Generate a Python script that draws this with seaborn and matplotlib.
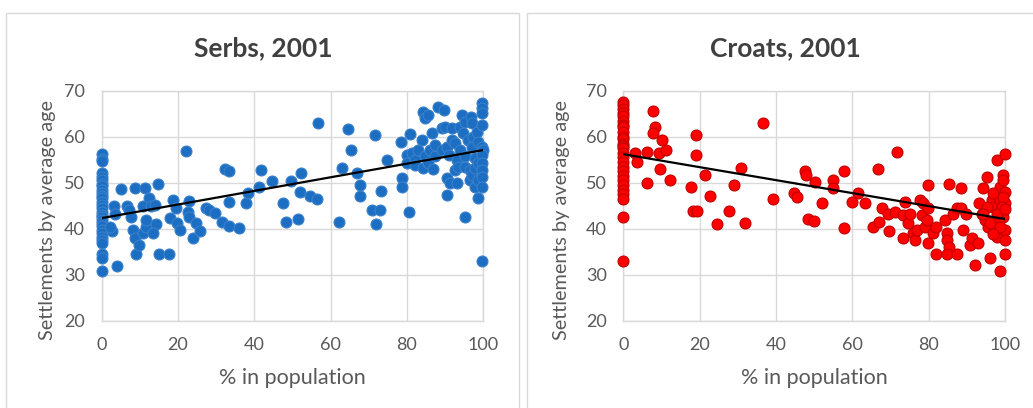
import matplotlib
matplotlib.use("Agg")
import matplotlib.pyplot as plt
from matplotlib.patches import Rectangle
import seaborn as sns

# ---------------------------------------------------------------------------
# Data
# ---------------------------------------------------------------------------

serbs_zero_age = [56.2, 55.2, 54.8, 52.0, 51.2, 50.6, 49.8, 49.2, 48.5, 47.7, 47.0,
                  46.6, 45.8, 45.2, 44.5, 43.7, 43.0, 42.6, 41.8, 41.2, 40.5, 39.7,
                  39.0, 38.3, 37.5, 36.8, 34.6, 33.6, 30.7]
serbs_pct = [3.2, 3.9, 4.95, 2.6, 2.2, 3.5, 6.7, 7.2, 7.8, 8.7, 8.1, 9.0, 8.7, 9.8,
             11.3, 10.9, 11.7, 12.4, 10.7, 13.0, 13.9, 14.8, 11.6, 14.3, 13.5, 15.0,
             17.6, 17.8, 18.7, 19.4, 19.7, 20.4, 22.2, 22.6, 23.0, 22.9, 23.9, 24.8,
             25.8, 27.4, 28.1, 29.6, 31.6, 32.2, 33.3, 33.3, 33.3, 36.1, 37.8, 38.3,
             41.1, 41.7, 44.6, 47.6, 48.3, 49.7, 51.5, 52.0, 52.3, 54.5, 56.3, 56.6,
             62.3, 63.0, 64.6, 65.2, 66.8, 67.6, 67.8, 70.8, 71.8, 71.7, 72.8, 73.3,
             74.8, 78.5, 78.7, 78.7, 80.4, 80.7, 80.0, 80.0, 81.3, 82.2, 82.2, 83.0,
             83.9, 84.2, 84.3, 84.8, 84.8, 85.6, 85.6, 86.1, 86.5, 86.8, 87.4, 87.4,
             88.1, 89.1, 89.1, 89.8, 90.0, 90.4, 90.4, 90.4, 90.9, 91.3, 91.7, 91.7,
             92.6, 92.6, 93.0, 93.0, 93.5, 93.9, 93.9, 94.3, 94.8, 95.2, 95.2, 95.2,
             95.2, 96.1, 96.5, 96.5, 96.8, 97.0, 97.0, 97.0, 97.4, 97.8, 97.8, 97.8,
             98.3, 98.7, 98.7, 98.7, 98.7, 99.7, 99.7, 99.7, 99.7, 99.7, 100, 99.7,
             99.7, 99.7, 99.7, 99.7, 99.7]
serbs_age = [44.9, 31.9, 48.6, 39.4, 40.4, 43.2, 44.9, 44.1, 42.6, 48.8, 39.7, 34.6,
             37.9, 36.5, 48.8, 39.0, 40.4, 46.6, 44.9, 44.9, 45.1, 49.7, 41.9, 41.0,
             39.0, 34.6, 34.6, 42.3, 46.2, 44.4, 41.2, 39.7, 56.8, 43.7, 46.1, 42.6,
             37.9, 41.2, 39.4, 44.4, 44.1, 43.4, 41.5, 52.9, 52.6, 45.7, 40.6, 40.1,
             45.5, 47.7, 49.0, 52.8, 50.4, 45.5, 41.5, 50.3, 42.0, 48.0, 52.0, 47.0,
             46.5, 63.0, 41.4, 53.2, 61.6, 57.1, 52.0, 49.5, 47.1, 44.0, 41.1, 60.4,
             44.0, 48.2, 54.9, 58.8, 51.0, 49.1, 43.7, 60.5, 56.0, 54.2, 56.4, 54.9,
             53.9, 57.1, 59.3, 65.3, 53.3, 55.7, 64.0, 64.7, 54.2, 57.1, 60.7, 52.9,
             55.7, 58.2, 66.5, 57.1, 61.8, 65.7, 62.2, 57.8, 51.0, 47.3, 56.0, 49.9,
             61.8, 59.3, 58.6, 52.8, 54.9, 49.9, 53.5, 57.1, 62.2, 64.7, 60.7, 63.3,
             55.7, 53.5, 42.6, 59.3, 52.8, 50.6, 64.3, 62.9, 57.8, 51.7, 60.0, 55.3,
             53.1, 49.1, 61.1, 58.9, 54.2, 50.6, 46.6, 67.4, 66.2, 65.1, 62.5, 57.8,
             57.1, 56.0, 54.2, 52.8, 51.3, 49.1, 33.0]

croats_zero_age = [67.5, 66.8, 66.0, 65.2, 64.5, 63.5, 62.5, 62.0, 61.0, 60.0, 59.5,
                   58.5, 58.0, 57.5, 56.5, 55.5, 54.5, 53.5, 52.5, 51.5, 50.5, 49.5,
                   48.5, 47.5, 46.5, 42.5, 33.0]
croats_pct = [3.1, 3.7, 6.3, 6.1, 7.7, 8.3, 7.9, 10.1, 9.4, 11.2, 9.6, 12.2, 17.7,
              19.0, 19.1, 18.2, 19.4, 21.4, 22.7, 24.5, 27.8, 29.1, 30.8, 31.9, 36.5,
              39.3, 44.6, 45.4, 47.6, 47.9, 48.5, 50.0, 50.2, 52.0, 55.0, 54.9, 57.8,
              57.8, 59.8, 61.6, 63.3, 65.5, 66.6, 67.1, 67.9, 69.4, 69.7, 71.2, 71.8,
              73.2, 73.4, 73.8, 74.7, 75.1, 76.0, 76.4, 76.9, 77.7, 78.2, 78.6, 79.0,
              79.5, 79.7, 79.9, 79.9, 81.2, 81.9, 81.9, 84.3, 84.7, 84.9, 85.2, 84.7,
              85.4, 86.5, 87.3, 87.3, 88.4, 88.6, 88.9, 89.9, 90.7, 91.3, 92.1, 93.0,
              93.3, 93.9, 94.2, 94.8, 95.4, 95.6, 96.1, 96.5, 96.9, 97.4, 97.8, 98.0,
              98.7, 98.9, 98.7, 99.4, 100, 100, 100, 100, 100, 100, 99.6, 99.6, 98.7,
              98.3, 96.9, 95.2, 94.3, 99.6, 99.1, 97.8, 96.1, 100, 98.7, 96.9]
croats_age = [56.5, 54.6, 56.7, 50.0, 65.6, 62.0, 60.7, 59.3, 56.4, 57.0, 52.9, 50.6,
              49.1, 60.4, 56.0, 43.9, 43.9, 51.7, 47.2, 41.0, 43.9, 49.4, 53.3, 41.2,
              62.9, 46.5, 47.7, 46.8, 52.6, 51.7, 42.2, 41.7, 50.2, 45.5, 50.6, 48.8,
              52.6, 40.1, 45.9, 47.8, 45.5, 40.4, 52.9, 41.5, 44.6, 43.3, 39.5, 43.7,
              56.7, 37.9, 43.0, 45.9, 41.2, 43.3, 39.0, 37.5, 39.7, 46.2, 43.0, 45.5,
              40.4, 41.9, 36.8, 49.5, 44.4, 39.0, 40.4, 34.6, 41.9, 39.0, 37.5, 36.1,
              34.6, 49.7, 43.3, 34.6, 44.4, 48.8, 44.4, 39.7, 43.3, 36.4, 37.9, 32.1,
              36.8, 45.5, 43.3, 48.8, 41.9, 51.3, 40.4, 33.6, 46.2, 44.8, 39.7, 54.9,
              38.3, 49.1, 43.3, 30.7, 51.7, 56.2, 48.0, 45.5, 39.7, 37.5, 34.6, 50.6,
              42.6, 46.2, 41.9, 47.7, 44.8, 43.3, 46.9, 44.8, 43.3, 41.2, 44.2, 40.4,
              38.9]

# linear trend lines as drawn in the reference (value at 0 % and at 100 %)
trend_x = [0, 100]
serbs_trend = [42.3, 57.1]
croats_trend = [56.2, 42.1]

x_ticks = [0, 20, 40, 60, 80, 100]
y_ticks = [20, 30, 40, 50, 60, 70]

# ---------------------------------------------------------------------------
# Styling
# ---------------------------------------------------------------------------

W, H = 1033, 408
DPI = 100
GRID = "#D9D9D9"
TEXT = "#595959"

sns.set_theme(style="white")
plt.rcParams["font.family"] = ["Lato", "DejaVu Sans"]

fig = plt.figure(figsize=(W / DPI, H / DPI), dpi=DPI)
fig.patch.set_facecolor("white")

# chart-area frames (Excel style)
for x0, x1 in [(6, 519), (527, 1040)]:
    fig.patches.append(Rectangle((x0 / W, -0.05), (x1 - x0) / W, 1.05 - 13 / H,
                                 transform=fig.transFigure, fill=False,
                                 edgecolor=GRID, linewidth=1.0))

panels = [
    ("Serbs, 2001", serbs_pct, serbs_age, serbs_zero_age, serbs_trend,
     "#1B6EC2", "#3A80CB", 101.7, 483.3, 263, 47),
    ("Croats, 2001", croats_pct, croats_age, croats_zero_age, croats_trend,
     "#FF0000", "#C00000", 623.3, 1005.0, 785, 562),
]

top_px, bottom_px = 90.7, 320.7
ax_h = bottom_px - top_px

for (title, pct, age, zero_age, trend, fill, edge,
     left_px, right_px, title_px, ylab_px) in panels:
    ax_w = right_px - left_px
    ax = fig.add_axes([left_px / W, 1 - bottom_px / H, ax_w / W, ax_h / H])
    all_x = [0] * len(zero_age) + pct
    all_y = zero_age + age
    sns.scatterplot(x=all_x, y=all_y, ax=ax, color=fill, edgecolor=edge,
                    linewidth=0.8, s=62, alpha=1, zorder=3, clip_on=False)
    sns.lineplot(x=trend_x, y=trend, ax=ax, color="black", linewidth=1.6, zorder=4)

    ax.set_xlim(0, 100)
    ax.set_ylim(20, 70)
    ax.set_xticks(x_ticks)
    ax.set_yticks(y_ticks)
    ax.grid(True, color=GRID, linewidth=1.0)
    ax.set_axisbelow(True)
    for sp in ax.spines.values():
        sp.set_color(GRID)
        sp.set_linewidth(1.0)
    ax.tick_params(axis="both", length=0, labelsize=13, colors=TEXT)
    ax.tick_params(axis="x", pad=12)
    ax.tick_params(axis="y", pad=12)

    ax.set_xlabel("% in population", fontsize=15.5, color=TEXT, va="center")
    ax.xaxis.set_label_coords(0.5, (bottom_px - 378) / ax_h)
    ax.set_ylabel("Settlements by average age", fontsize=14.3, color=TEXT,
                  va="center")
    ax.yaxis.set_label_coords((ylab_px - left_px) / ax_w, 0.44)

    fig.text(title_px / W, 1 - 48 / H, title, ha="center", va="center",
             fontsize=19, fontweight="bold", color="#404040")

fig.savefig("out.png", dpi=DPI, facecolor="white")
